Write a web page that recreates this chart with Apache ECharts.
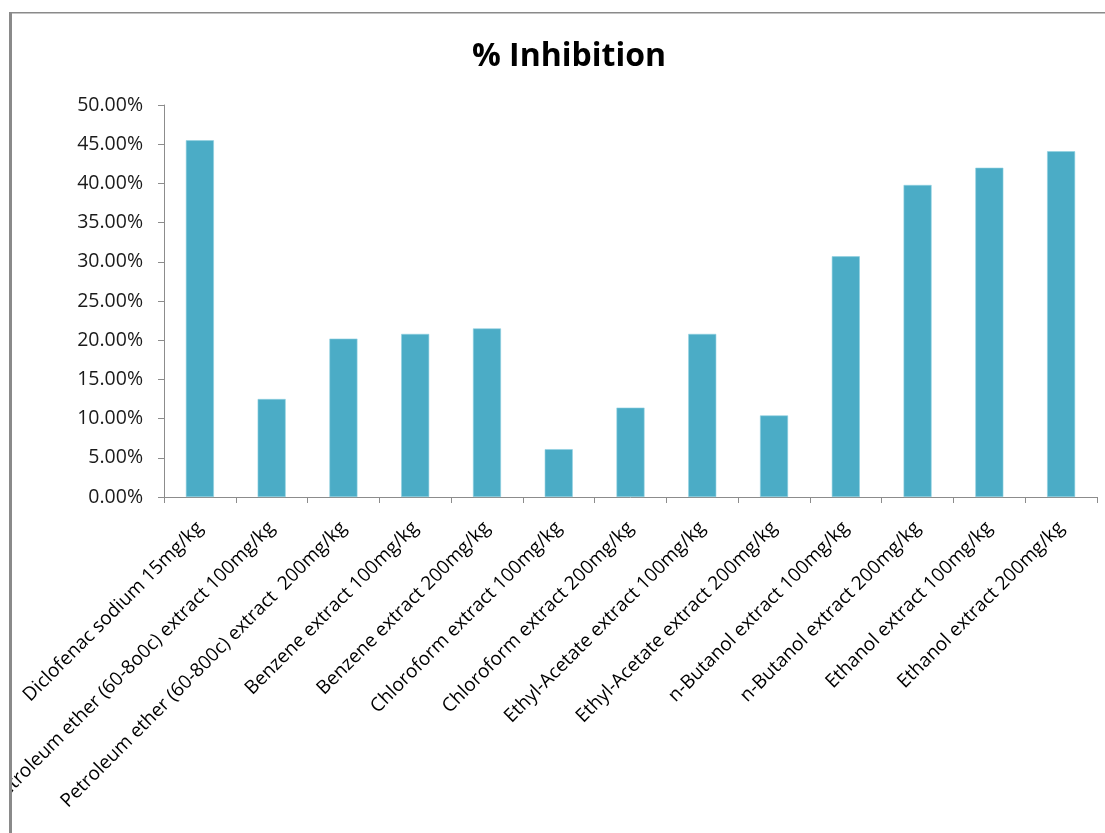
<!DOCTYPE html>
<html>
<head>
<meta charset="utf-8">
<title>% Inhibition</title>
<script src="https://cdn.jsdelivr.net/npm/echarts@6/dist/echarts.min.js"></script>
<style>
  html, body { margin: 0; padding: 0; background: #ffffff; }
  #chart { width: 1105px; height: 833px; }
</style>
</head>
<body>
<div id="chart"></div>
<script>
// Treatment groups (x axis categories)
const categories = [
  'Diclofenac sodium 15mg/kg',
  'Petroleum ether (60-8o0c) extract 100mg/kg',
  'Petroleum ether (60-800c) extract  200mg/kg',
  'Benzene extract 100mg/kg',
  'Benzene extract 200mg/kg',
  'Chloroform extract 100mg/kg',
  'Chloroform extract 200mg/kg',
  'Ethyl-Acetate extract 100mg/kg',
  'Ethyl-Acetate extract 200mg/kg',
  'n-Butanol extract 100mg/kg',
  'n-Butanol extract 200mg/kg',
  'Ethanol extract 100mg/kg',
  'Ethanol extract 200mg/kg'
];

// Percent inhibition for each group
const inhibition = [45.5, 12.5, 20.2, 20.8, 21.5, 6.1, 11.4, 20.8, 10.4, 30.7, 39.8, 42.0, 44.1];

// Y axis range (percent)
const yMin = 0;
const yMax = 50;
const yStep = 5;

const FONT = '"Open Sans", "DejaVu Sans", sans-serif';
const AXIS_GRAY = '#8c8c8c';

const chart = echarts.init(document.getElementById('chart'), null, { renderer: 'canvas' });

chart.setOption({
  backgroundColor: '#ffffff',
  animation: false,
  title: {
    text: '% Inhibition',
    left: 564,
    top: 36,
    textAlign: 'center',
    textStyle: {
      fontFamily: FONT,
      fontWeight: 'bold',
      fontSize: 32,
      color: '#000000'
    }
  },
  grid: {
    left: 164,
    right: 8,
    top: 105,
    bottom: 336,
    containLabel: false,
    outerBoundsMode: 'none'
  },
  xAxis: {
    type: 'category',
    data: categories,
    boundaryGap: true,
    axisLine: { show: true, lineStyle: { color: AXIS_GRAY, width: 1 } },
    axisTick: { show: true, alignWithLabel: false, length: 6, lineStyle: { color: AXIS_GRAY } },
    axisLabel: {
      interval: 0,
      rotate: 45,
      margin: 28,
      fontFamily: FONT,
      fontSize: 19,
      color: '#000000'
    },
    splitLine: { show: false }
  },
  yAxis: {
    type: 'value',
    min: yMin,
    max: yMax,
    interval: yStep,
    axisLine: { show: true, lineStyle: { color: AXIS_GRAY, width: 1 } },
    axisTick: { show: true, length: 6, lineStyle: { color: AXIS_GRAY } },
    axisLabel: {
      margin: 21,
      fontFamily: FONT,
      fontSize: 19.5,
      color: '#1a1a1a',
      formatter: v => v.toFixed(2) + '%'
    },
    splitLine: { show: false }
  },
  series: [{
    type: 'bar',
    data: inhibition,
    barWidth: '39%',
    itemStyle: {
      color: '#4BACC6',
      borderColor: '#8fd0e0',
      borderWidth: 0.6
    }
  }],
  graphic: [
    // outer frame: white margin on the left, gray border lines
    { type: 'rect', z: 100, shape: { x: 0, y: 0, width: 9, height: 833 }, style: { fill: '#ffffff' } },
    { type: 'rect', z: 101, shape: { x: 9, y: 12, width: 3, height: 821 }, style: { fill: '#8a8a8a' } },
    { type: 'rect', z: 101, shape: { x: 9, y: 12, width: 1096, height: 1.5 }, style: { fill: '#8a8a8a' } }
  ]
});
</script>
</body>
</html>
